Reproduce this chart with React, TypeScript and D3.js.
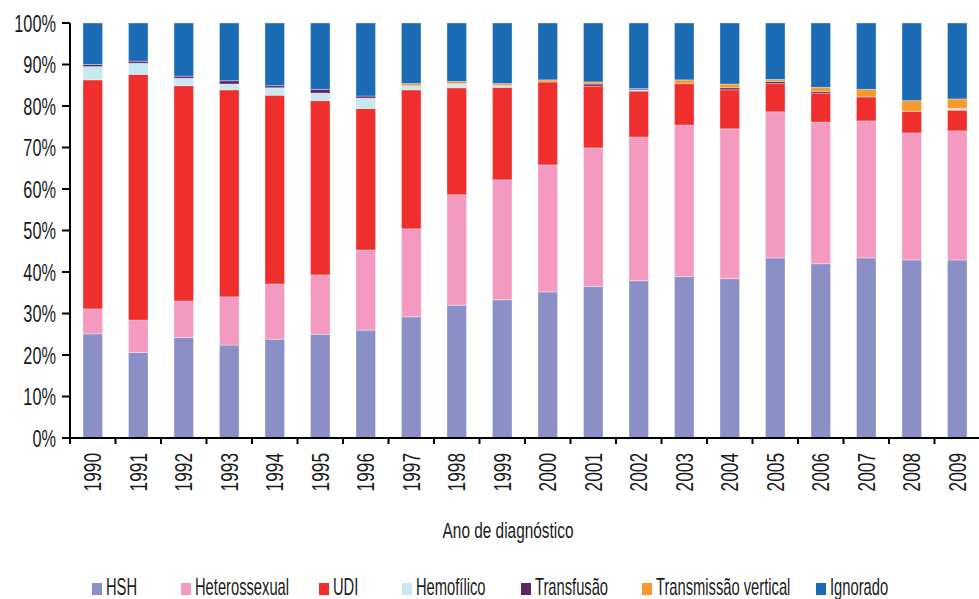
// Categoria de exposição por ano de diagnóstico - barras empilhadas 100%
import React, { useEffect, useRef } from 'react';
import * as d3 from 'd3';

const years = ['1990', '1991', '1992', '1993', '1994', '1995', '1996', '1997', '1998', '1999',
  '2000', '2001', '2002', '2003', '2004', '2005', '2006', '2007', '2008', '2009'];

const hsh = [25.1, 20.6, 24.2, 22.4, 23.8, 25.0, 26.0, 29.2, 32.0, 33.3, 35.2, 36.5, 37.9, 38.9, 38.4, 43.4, 42.0, 43.4, 42.9, 42.9];
const heterossexual = [6.0, 7.8, 8.8, 11.6, 13.3, 14.3, 19.3, 21.2, 26.6, 28.9, 30.6, 33.4, 34.6, 36.5, 36.1, 35.2, 34.1, 33.0, 30.6, 31.1];
const udi = [55.2, 59.2, 51.9, 49.9, 45.5, 42.0, 34.1, 33.5, 25.8, 22.3, 20.0, 14.9, 11.1, 10.0, 9.4, 6.8, 7.0, 5.8, 5.2, 5.0];
const hemofilico = [3.2, 2.7, 1.8, 1.4, 1.8, 1.8, 2.5, 0.9, 0.9, 0.4, 0, 0, 0.3, 0, 0, 0, 0, 0, 0, 0.4];
const transfusao = [0.5, 0.5, 0.5, 0.8, 0.5, 0.9, 0.5, 0.1, 0.1, 0.1, 0, 0.5, 0.3, 0, 0.5, 0.5, 0.4, 0, 0, 0];
const transmissaoVertical = [0, 0, 0, 0, 0, 0, 0, 0.5, 0.5, 0.4, 0.5, 0.5, 0, 0.9, 0.9, 0.5, 1.0, 1.8, 2.6, 2.3];
const ignorado = [10.0, 9.2, 12.8, 13.9, 15.1, 16.0, 17.6, 14.6, 14.1, 14.6, 13.7, 14.2, 15.8, 13.7, 14.7, 13.6, 15.5, 16.0, 18.7, 18.3];

const seriesNames = ['HSH', 'Heterossexual', 'UDI', 'Hemofílico', 'Transfusão', 'Transmissão vertical', 'Ignorado'];
const seriesValues = [hsh, heterossexual, udi, hemofilico, transfusao, transmissaoVertical, ignorado];
const yTicks = [0, 10, 20, 30, 40, 50, 60, 70, 80, 90, 100];

const colors = ['#8a8fc6', '#f49ac1', '#ef2f2d', '#c6e8ee', '#5f2466', '#f7992c', '#1c6bb5'];
// legend x positions as laid out in the original
const legendX = [92, 181, 319, 402, 521, 642, 816];

const FONT = "'Liberation Sans', Arial, sans-serif";

export default function App() {
  const svgRef = useRef<SVGSVGElement>(null);

  useEffect(() => {
    if (!svgRef.current) return;
    const svg = d3.select(svgRef.current);
    svg.selectAll('*').remove();

    const left = 70;
    const right = 980;
    const top = 23;
    const bottom = 438;

    const rows = years.map((y, i) => {
      const r: any = { year: y };
      seriesNames.forEach((n, k) => { r[n] = seriesValues[k][i]; });
      return r;
    });

    const stacked = d3.stack().keys(seriesNames)(rows);

    const x = d3.scaleBand().domain(years).range([left, right]).paddingInner(0.57).paddingOuter(0.285);
    const y = d3.scaleLinear().domain([0, 100]).range([bottom, top]);

    const g = svg.append('g');

    // bars
    stacked.forEach((layer, k) => {
      g.append('g')
        .selectAll('rect')
        .data(layer)
        .enter()
        .append('rect')
        .attr('x', (d: any) => x(d.data.year) as number)
        .attr('width', x.bandwidth())
        .attr('y', d => y(d[1]))
        .attr('height', d => Math.max(0, y(d[0]) - y(d[1])))
        .attr('fill', colors[k])
        .attr('stroke', '#ffffff')
        .attr('stroke-opacity', 0.35)
        .attr('stroke-width', 1);
    });

    // y axis
    g.append('line')
      .attr('x1', left).attr('x2', left)
      .attr('y1', top).attr('y2', bottom)
      .attr('stroke', '#000').attr('stroke-width', 2);

    yTicks.forEach(t => {
      g.append('line')
        .attr('x1', left - 8).attr('x2', left)
        .attr('y1', y(t)).attr('y2', y(t))
        .attr('stroke', '#000').attr('stroke-width', 2);
      g.append('text')
        .attr('transform', `translate(${left - 14},${y(t)}) scale(0.68,1)`)
        .attr('text-anchor', 'end')
        .attr('dy', '0.36em')
        .attr('font-family', FONT)
        .attr('font-size', 24)
        .attr('fill', '#1a1a1a')
        .text(`${t}%`);
    });

    // x axis
    g.append('line')
      .attr('x1', left).attr('x2', right)
      .attr('y1', bottom).attr('y2', bottom)
      .attr('stroke', '#000').attr('stroke-width', 2);

    const step = x.step();
    years.forEach((yr, i) => {
      const bx = left + step * i;
      g.append('line')
        .attr('x1', bx).attr('x2', bx)
        .attr('y1', bottom).attr('y2', bottom + 6)
        .attr('stroke', '#000').attr('stroke-width', 2);
      const cx = (x(yr) as number) + x.bandwidth() / 2;
      g.append('text')
        .attr('transform', `translate(${cx},${bottom + 15}) rotate(-90) scale(0.72,1)`)
        .attr('text-anchor', 'end')
        .attr('dy', '0.36em')
        .attr('font-family', FONT)
        .attr('font-size', 24)
        .attr('fill', '#1a1a1a')
        .text(yr);
    });

    // axis title
    g.append('text')
      .attr('transform', `translate(${(443 + 573) / 2},538) scale(0.7,1)`)
      .attr('text-anchor', 'middle')
      .attr('font-family', FONT)
      .attr('font-size', 22)
      .attr('fill', '#1a1a1a')
      .text('Ano de diagnóstico');

    // legend
    seriesNames.forEach((n, k) => {
      const lx = legendX[k];
      g.append('rect')
        .attr('x', lx).attr('y', 583)
        .attr('width', 10).attr('height', 12)
        .attr('fill', colors[k]);
      g.append('text')
        .attr('transform', `translate(${lx + 14},595) scale(0.64,1)`)
        .attr('font-family', FONT)
        .attr('font-size', 23)
        .attr('fill', '#1a1a1a')
        .text(n);
    });
  }, []);

  return (
    <div style={{ position: 'fixed', left: 0, top: 0, width: 979, height: 599, background: '#fff' }}>
      <svg ref={svgRef} width={979} height={599} style={{ display: 'block' }} />
    </div>
  );
}
